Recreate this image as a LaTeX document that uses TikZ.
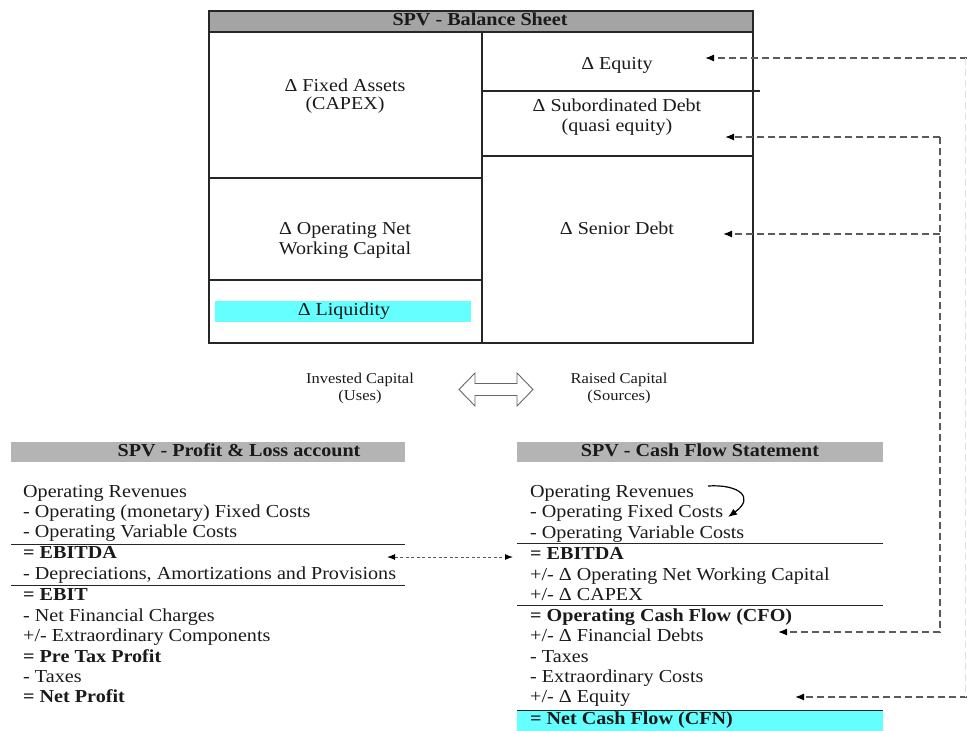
\documentclass[tikz,border=0pt]{standalone}
\usepackage{fontspec}
\setmainfont{Liberation Serif}[FakeStretch=1.1]
\usetikzlibrary{arrows.meta}
\definecolor{hdrA}{HTML}{A4A4A4}
\definecolor{hdrB}{HTML}{B4B4B4}
\definecolor{liq}{HTML}{66FFFF}
\definecolor{dsh}{HTML}{5A5A5A}
\definecolor{ink}{HTML}{1A1A1A}
\begin{document}
\begin{tikzpicture}[x=1pt,y=-1pt,
  txt/.style={anchor=west,inner sep=0pt,text=ink,font=\fontsize{18.3}{20}\selectfont,text height=12pt,text depth=4pt},
  btxt/.style={txt,font=\fontsize{18.3}{20}\selectfont\bfseries},
  ctxt/.style={anchor=center,inner sep=0pt,text=ink,font=\fontsize{18.2}{20}\selectfont,text height=12pt,text depth=4pt},
  stxt/.style={anchor=center,inner sep=0pt,text=ink,font=\fontsize{15}{18}\selectfont,text height=10pt,text depth=3pt},
  htxt/.style={anchor=center,inner sep=0pt,text=ink,font=\fontsize{18.3}{20}\selectfont\bfseries,text height=12pt,text depth=4pt},
  grid/.style={line width=1.2pt,black!85},
  rule/.style={line width=1pt,black!85},
  dlink/.style={dsh,line width=1.3pt,dash pattern=on 7pt off 4pt},
  ahead/.style={-{Latex[length=9pt,width=7pt,black]}},
]
\useasboundingbox (0,0) rectangle (967,731);
% ---------- Balance sheet ----------
\fill[hdrA] (209,11) rectangle (753,32);
\draw[grid] (209,11) rectangle (753,343);
\draw[grid] (209,32) -- (753,32);
\draw[grid] (482,32) -- (482,343);
\draw[grid] (209,178) -- (482,178);
\draw[grid] (209,280) -- (482,280);
\draw[grid] (482,91) -- (760,91);
\draw[grid] (482,156) -- (753,156);
\node[htxt] (bsh) at (480,21.5) {SPV - Balance Sheet};
\node[ctxt] (fa1) at (345,87) {Δ Fixed Assets};
\node[ctxt] (fa2) at (345,105) {(CAPEX)};
\node[ctxt] (eq) at (617,65) {Δ Equity};
\node[ctxt] (sd1) at (617,107) {Δ Subordinated Debt};
\node[ctxt] (sd2) at (617,127) {(quasi equity)};
\node[ctxt] (on1) at (345,230) {Δ Operating Net};
\node[ctxt] (on2) at (345,250) {Working Capital};
\node[ctxt] (sen) at (617,230) {Δ Senior Debt};
\fill[liq] (215,301) rectangle (471,322);
\node[ctxt] (liqt) at (344,311.5) {Δ Liquidity};
% ---------- Invested / Raised ----------
\node[stxt] (ic1) at (360,380) {Invested Capital};
\node[stxt] (ic2) at (360,397) {(Uses)};
\node[stxt] (rc1) at (619,380) {Raised Capital};
\node[stxt] (rc2) at (619,397) {(Sources)};
\draw[black!60,line width=0.9pt,line join=miter]
  (459,389.5) -- (475,373) -- (475,383.5) -- (517,383.5) -- (517,373) -- (533,389.5)
  -- (517,406) -- (517,395.5) -- (475,395.5) -- (475,406) -- cycle;
% ---------- P&L ----------
\fill[hdrB] (11,442) rectangle (405,462);
\node[htxt] (plh) at (239,452) {SPV - Profit \& Loss account};
\node[txt]  (pl1)  at (23,493) {Operating Revenues};
\node[txt]  (pl2)  at (23,513) {- Operating (monetary) Fixed Costs};
\node[txt]  (pl3)  at (23,533.5) {- Operating Variable Costs};
\draw[rule] (11,544) -- (405,544);
\node[btxt] (pl4)  at (23,554.5) {= EBITDA};
\node[txt]  (pl5)  at (23,575) {- Depreciations, Amortizations and Provisions};
\draw[rule] (11,585) -- (405,585);
\node[btxt] (pl6)  at (23,596.5) {= EBIT};
\node[txt]  (pl7)  at (23,617) {- Net Financial Charges};
\node[txt]  (pl8)  at (23,637.5) {+/- Extraordinary Components};
\node[btxt] (pl9)  at (23,658) {= Pre Tax Profit};
\node[txt]  (pl10) at (23,678) {- Taxes};
\node[btxt] (pl11) at (23,698.5) {= Net Profit};
% ---------- Cash flow ----------
\fill[hdrB] (517,442) rectangle (883,462);
\node[htxt] (cfh) at (700,452) {SPV - Cash Flow Statement};
\node[txt]  (cf1)  at (530,493) {Operating Revenues};
\node[txt]  (cf2)  at (530,513.5) {- Operating Fixed Costs};
\node[txt]  (cf3)  at (530,534) {- Operating Variable Costs};
\draw[rule] (517,543.5) -- (883,543.5);
\node[btxt] (cf4)  at (530,555) {= EBITDA};
\node[txt]  (cf5)  at (530,576) {+/- Δ Operating Net Working Capital};
\node[txt]  (cf6)  at (530,596) {+/- Δ CAPEX};
\draw[rule] (517,605) -- (883,605);
\node[btxt] (cf7)  at (530,617) {= Operating Cash Flow (CFO)};
\node[txt]  (cf8)  at (530,637.5) {+/- Δ Financial Debts};
\node[txt]  (cf9)  at (530,658) {- Taxes};
\node[txt]  (cf10) at (530,678) {- Extraordinary Costs};
\node[txt]  (cf11) at (530,698) {+/- Δ Equity};
\fill[liq] (517,711) rectangle (883,731);
\draw[rule] (517,710) -- (883,710);
\node[btxt] (cf12) at (530,720.5) {= Net Cash Flow (CFN)};
% curved arrow
\coordinate (cvA) at (708,486);
\coordinate (cvB) at (728,517);
\draw[black,line width=1.2pt,-{Latex[length=9pt,width=7pt]}]
  (cvA) .. controls (738,484) and (756,497) .. (cvB);
% ---------- Dashed links ----------
\coordinate (ebL) at (387,557);
\coordinate (ebR) at (513,557);
\draw[dlink,line width=1pt,dash pattern=on 3pt off 2.5pt,{Latex[length=8pt,width=6pt,black]}-{Latex[length=8pt,width=6pt,black]}] (ebL) -- (ebR);
\coordinate (eqS) at (967,58);
\coordinate (eqT) at (705,58);
\draw[dlink,ahead] (eqS) -- (eqT);
\coordinate (vTop) at (940,137);
\coordinate (sdT) at (725,137);
\coordinate (vBot) at (940,632);
\coordinate (fdT) at (778,632);
\coordinate (snS) at (940,234);
\coordinate (snT) at (723,234);
\draw[dlink,ahead] (vTop) -- (sdT);
\draw[dlink,ahead] (snS) -- (snT);
\draw[dlink,ahead] (vTop) -- (vBot) -- (fdT);
\coordinate (beS) at (967,697);
\coordinate (beT) at (795,697);
\draw[dlink,ahead] (beS) -- (beT);
\draw[black!12,line width=1pt,dash pattern=on 7pt off 4pt] (eqS) ++(-1.5,0) -- ([xshift=-1.5pt]beS);
\end{tikzpicture}
\end{document}
